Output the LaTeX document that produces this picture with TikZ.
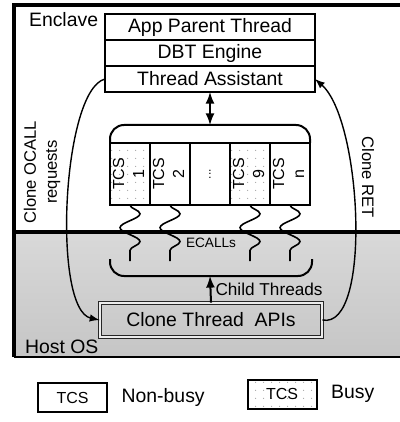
\documentclass[tikz,border=0pt]{standalone}
\usepackage{fontspec}
\setmainfont{Liberation Sans}
\usepackage{tikz}
\usetikzlibrary{positioning}
\usetikzlibrary{arrows}
\usetikzlibrary{patterns.meta}
\usetikzlibrary{decorations.pathmorphing}
\newcommand{\tcslabel}[1]{\rotatebox{90}{\begin{tabular}{@{}c@{}}TCS\\#1\end{tabular}}}
\begin{document}
\begin{tikzpicture}[x = .5pt, y = -.5pt,
  every node/.style = {font=\fontsize{9.7}{11.6}\selectfont},
  layer/.style = {draw, line width=1.2pt, minimum width=105pt, minimum height=13pt, inner sep=0pt, outer sep=0pt},
  tcs/.style = {draw, line width=1pt, minimum width=20pt, minimum height=31pt, inner sep=0pt, outer sep=0pt, font=\fontsize{8}{10}\selectfont},
  busy/.style = {tcs, pattern={Dots[distance=4pt, radius=.35pt]}, pattern color=gray!70},
  legendbox/.style = {draw, line width=1pt, minimum width=34.5pt, minimum height=14.5pt, inner sep=0pt, font=\fontsize{8}{10}\selectfont},
  ecall/.style = {decorate, decoration={snake, amplitude=5pt, segment length=13.95pt}, line width=.8pt},
  brace/.style = {line width=1pt, rounded corners=7pt},
  arc/.style = {-latex, line width=.7pt},
  apibox/.style = {draw=black!85, line width=.45pt, double=gray!15, double distance=.9pt, minimum width=111pt, minimum height=17pt},
  sidelabel/.style = {align=center, font=\fontsize{8.3}{10.5}\selectfont}]
 \useasboundingbox (0, 0) rectangle (400, 422);
 \clip (0, 0) rectangle (400, 422);
  \fill[top color=gray!30, bottom color=gray!45] (14, 232) rectangle (410, 357);
  \draw[line width=1.1pt] (14, 357) -- (410, 357);
  \draw[line width=1.7pt] (14, 232) -- (410, 232);
  \draw[line width=2pt] (14, 357) -- (14, 5) -- (410, 5);
  \node[anchor=west] (enclave) at (22, 20) {Enclave};
  \node[anchor=west] (hostos) at (18, 347) {Host OS};
  \node[layer] (app) at (210, 27) {App Parent Thread};
  \node[layer, below=0pt of app] (dbt) {DBT Engine};
  \node[layer, below=0pt of dbt] (assist) {Thread Assistant};
  \node[busy] (tcs1) at (130, 174) {\tcslabel{1}};
  \node[tcs, right=0pt of tcs1] (tcs2) {\tcslabel{2}};
  \node[tcs, right=0pt of tcs2] (tcsdots) {\rotatebox{90}{\fontsize{6}{7}\selectfont...}};
  \node[busy, right=0pt of tcsdots] (tcs9) {\tcslabel{9}};
  \node[tcs, right=0pt of tcs9] (tcsn) {\tcslabel{n}};
  \coordinate (btop) at (210, 125);
  \draw[brace] (tcs1.north west) |- (btop) -| (tcsn.north east);
  \draw[latex-latex, line width=1pt] (assist.south) -- (btop);
  \foreach \n in {1,2,9,n}{
  \coordinate (w\n) at ([yshift=-28pt]tcs\n.south);
  \draw[ecall] (tcs\n.south) -- (w\n);
  }
  \node[font=\fontsize{6.8}{8}\selectfont] (ecalls) at (211, 243) {ECALLs};
  \coordinate (bl) at (110, 259);
  \coordinate (br) at (312, 259);
  \coordinate (bbot) at (210, 276);
  \draw[brace] (bl) |- (bbot) -| (br);
  \node[apibox] (api) at (211, 320) {Clone Thread\ \ APIs};
  \draw[-latex, line width=1pt] (api.north) -- node[right, inner sep=2pt, font=\fontsize{8.6}{10}\selectfont] (child) {Child Threads} (bbot);
  \draw[arc] (assist.west) .. controls (62, 90) and (52, 310) .. (api.west);
  \draw[arc] (api.east) .. controls (372, 330) and (362, 120) .. (assist.east);
  \node[sidelabel, rotate=90] (ocall) at (42, 172) {Clone OCALL\\requests};
  \node[sidelabel, rotate=-90] (ret) at (368, 177) {Clone RET};
  \node[legendbox] (free) at (72.5, 397.5) {TCS};
  \node[right=3.3pt of free] (freetxt) {Non-busy};
  \node[legendbox, pattern={Dots[distance=4pt, radius=.35pt]}, pattern color=gray!70] (used) at (282, 394) {TCS};
  \node[right=3.3pt of used] (usedtxt) {Busy};
 \end{tikzpicture}
\end{document}
